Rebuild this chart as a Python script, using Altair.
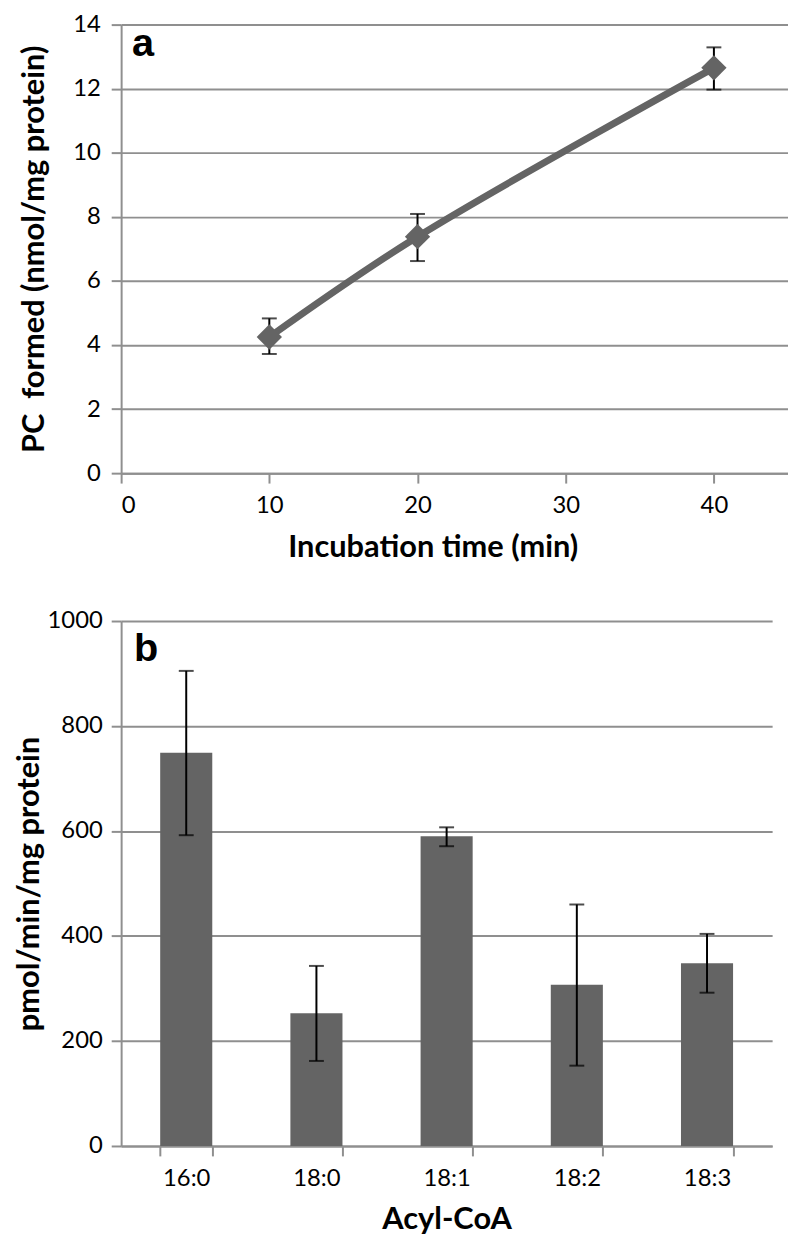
import altair as alt
import pandas as pd

# ---------------- data ----------------
# Panel a: PC formed vs incubation time
time_min = [10, 20, 40]
pc_formed = [4.25, 7.38, 12.65]
pc_low = [3.72, 6.62, 11.97]
pc_high = [4.83, 8.09, 13.29]
x_ticks_a = [0, 10, 20, 30, 40]
y_ticks_a = [0, 2, 4, 6, 8, 10, 12, 14]

# Panel b: activity by acyl-CoA
acyl_coa = ["16:0", "18:0", "18:1", "18:2", "18:3"]
activity = [749, 253, 590, 307, 348]
act_low = [592, 162, 571, 153, 292]
act_high = [905, 343, 607, 460, 404]
y_ticks_b = [0, 200, 400, 600, 800, 1000]

GRAY = "#646464"
AXIS_GRAY = "#8f8f8f"
FONT = "Lato"
LABEL_SIZE = 24
TITLE_SIZE = 31

df_a = pd.DataFrame({"t": time_min, "pc": pc_formed, "lo": pc_low, "hi": pc_high})
df_b = pd.DataFrame({"acyl": acyl_coa, "v": activity, "lo": act_low, "hi": act_high})

# ---------------- panel a ----------------
def xa(field):
    return alt.X(f"{field}:Q",
                 scale=alt.Scale(domain=[0, 45], nice=False, zero=True),
                 axis=alt.Axis(values=x_ticks_a, title="Incubation time (min)",
                               grid=False, labelPadding=11, titlePadding=15, titleX=314))

def ya(field):
    return alt.Y(f"{field}:Q",
                 scale=alt.Scale(domain=[0, 14], nice=False),
                 axis=alt.Axis(values=y_ticks_a, title="PC\u00a0 formed (nmol/mg protein)",
                               grid=True, labelPadding=11, titlePadding=22))

base_a = alt.Chart(df_a)
err_a = base_a.mark_rule(color="black", strokeWidth=2).encode(x=xa("t"), y=ya("lo"), y2="hi:Q")
cap_lo_a = base_a.mark_tick(orient="horizontal", size=15, thickness=2, color="black").encode(x=xa("t"), y=ya("lo"))
cap_hi_a = base_a.mark_tick(orient="horizontal", size=15, thickness=2, color="black").encode(x=xa("t"), y=ya("hi"))
line_a = base_a.mark_line(color=GRAY, strokeWidth=7, interpolate="catmull-rom").encode(x=xa("t"), y=ya("pc"))
pts_a = base_a.mark_point(shape="diamond", filled=True, size=650, color=GRAY, opacity=1).encode(x=xa("t"), y=ya("pc"))
lab_a = alt.Chart(pd.DataFrame({"lab": ["a"]})).mark_text(
    font="Liberation Sans", fontWeight="bold", fontSize=40, align="left",
    baseline="alphabetic", color="black").encode(x=alt.value(11), y=alt.value(32), text="lab:N")

panel_a = alt.layer(err_a, cap_lo_a, cap_hi_a, line_a, pts_a, lab_a).properties(width=672, height=452)

# ---------------- panel b ----------------
def xb():
    return alt.X("acyl:N", sort=acyl_coa,
                 scale=alt.Scale(paddingInner=0.6, paddingOuter=0.3),
                 axis=alt.Axis(title="Acyl-CoA", labelAngle=0, tickBand="extent",
                               grid=False, labelPadding=11, titlePadding=14))

def yb(field):
    return alt.Y(f"{field}:Q",
                 scale=alt.Scale(domain=[0, 1000], nice=False),
                 axis=alt.Axis(values=y_ticks_b, format="d", title="pmol/min/mg protein",
                               grid=True, labelPadding=9, titlePadding=2))

base_b = alt.Chart(df_b)
bars_b = base_b.mark_bar(color=GRAY).encode(x=xb(), y=yb("v"))
err_b = base_b.mark_rule(color="black", strokeWidth=2).encode(x=xb(), y=yb("lo"), y2="hi:Q")
cap_lo_b = base_b.mark_tick(orient="horizontal", size=15, thickness=2, color="black").encode(x=xb(), y=yb("lo"))
cap_hi_b = base_b.mark_tick(orient="horizontal", size=15, thickness=2, color="black").encode(x=xb(), y=yb("hi"))
lab_b = alt.Chart(pd.DataFrame({"lab": ["b"]})).mark_text(
    font="Liberation Sans", fontWeight="bold", fontSize=40, align="left",
    baseline="alphabetic", color="black").encode(x=alt.value(13), y=alt.value(40), text="lab:N")

panel_b = alt.layer(bars_b, err_b, cap_lo_b, cap_hi_b, lab_b).properties(width=656, height=529)

chart = alt.vconcat(panel_a, panel_b, spacing=47).properties(
    padding={"left": 5, "top": 0, "right": 0, "bottom": 0}
).configure_view(stroke=None).configure_axis(
    labelFont=FONT, labelFontSize=LABEL_SIZE, labelColor="black",
    titleFont=FONT, titleFontSize=TITLE_SIZE, titleFontWeight="bold", titleColor="black",
    domainColor=AXIS_GRAY, domainWidth=2,
    tickColor=AXIS_GRAY, tickWidth=2, tickSize=10,
    gridColor=AXIS_GRAY, gridWidth=2,
)

chart.save("out.html", embed_options={"renderer": "svg", "actions": False})
